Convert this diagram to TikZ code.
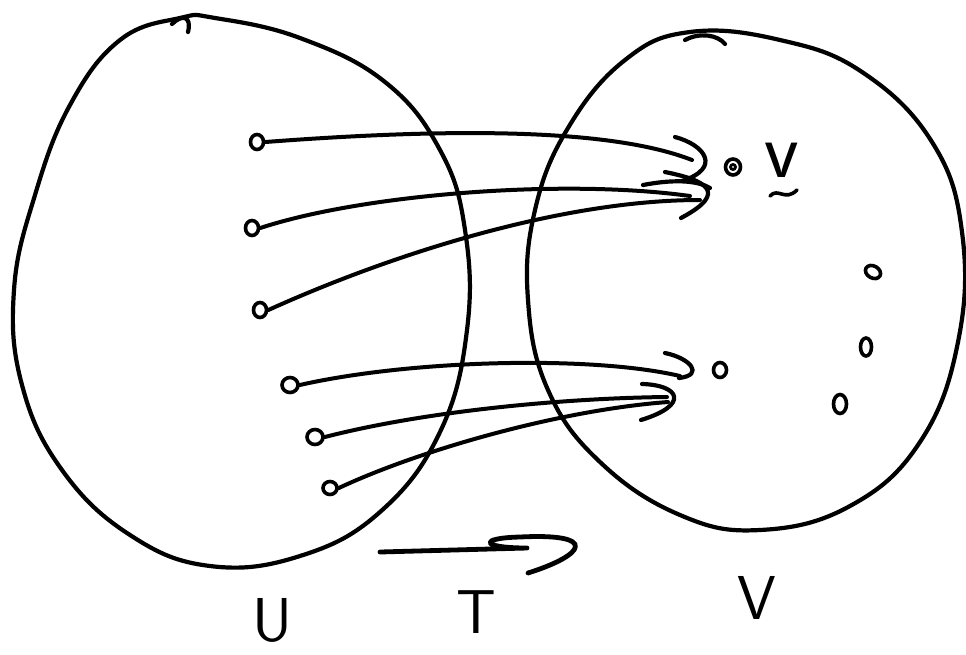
\documentclass[tikz,border=0pt]{standalone}
\usepackage{fontspec}
\usetikzlibrary{shapes.geometric}
\begin{document}
\begin{tikzpicture}[x=1pt,y=-1pt,
  ink/.style={line width=4.2pt,line cap=round,line join=round},
  pt/.style={draw,ellipse,line width=3.6pt,minimum width=13pt,minimum height=15pt,inner sep=0pt},
  conn/.style={ink,line width=4pt},
  head/.style={ink,line width=4.2pt},
  lbl/.style={font=\sffamily\fontsize{62}{62}\selectfont,inner sep=0pt}]
\useasboundingbox (0,0) rectangle (966,654);
% sets
\draw[ink] plot[smooth cycle,tension=0.7] coordinates {
  (180,18) (120,40) (70,105) (35,195) (14,290) (22,385) (62,470) (130,535) (210,566)
  (300,556) (380,512) (440,432) (467,330) (465,230) (440,150) (385,82) (300,38) (215,18)};
\draw[ink] (172,24) .. controls (182,14) and (192,16) .. (188,32);
\draw[ink] plot[smooth cycle,tension=0.7] coordinates {
  (690,32) (625,60) (568,128) (535,210) (528,300) (548,390) (600,462) (680,515)
  (760,530) (850,506) (920,442) (958,342) (962,232) (932,142) (862,72) (780,40)};
\draw[ink] (685,40) .. controls (700,32) and (718,35) .. (725,44);
% points in U
\node[pt] (u1) at (257,142) {};
\node[pt] (u2) at (252,228) {};
\node[pt] (u3) at (260,310) {};
\node[pt,minimum width=16pt] (u4) at (290,385) {};
\node[pt,minimum width=16pt] (u5) at (315,437) {};
\node[pt,minimum width=14pt,minimum height=13pt] (u6) at (330,488) {};
% points in V
\node[pt,minimum width=15pt,minimum height=16pt] (pv) at (733,167) {};
\node[pt,minimum width=5pt,minimum height=5pt,line width=2.8pt] (pvi) at (733,167) {};
\node[pt] (pw) at (720,370) {};
\node[pt,rotate=-30,minimum width=16pt,minimum height=12pt] (p1) at (873,272) {};
\node[pt,minimum height=18pt,minimum width=11pt] (p2) at (866,347) {};
\node[pt,minimum height=19pt,minimum width=13pt] (p3) at (840,404) {};
% arrow ends
\coordinate (e1) at (692,160);
\coordinate (e2) at (690,196);
\coordinate (e3) at (700,200);
\coordinate (e4) at (680,376);
\coordinate (e5) at (667,397);
\coordinate (e6) at (668,402);
% connectors
\draw[conn] (u1.east) .. controls (450,128) and (610,128) .. (e1);
\draw[conn] (u2.east) .. controls (360,195) and (560,178) .. (e2);
\draw[conn] (u3.east) .. controls (390,255) and (560,200) .. (e3);
\draw[conn] (u4.east) .. controls (410,360) and (590,355) .. (e4);
\draw[conn] (u5.east) .. controls (430,410) and (570,398) .. (e5);
\draw[conn] (u6.east) .. controls (420,450) and (560,410) .. (e6);
% arrowheads
\draw[head] (675,137) .. controls (705,145) and (722,168) .. (682,181);
\draw[head] (643,185) .. controls (680,178) and (700,182) .. (710,188);
\draw[head] (665,172) .. controls (705,180) and (730,192) .. (681,218);
\draw[head] (665,353) .. controls (690,358) and (705,375) .. (679,378);
\draw[head] (642,384) .. controls (680,385) and (690,405) .. (641,420);
% T arrow
\coordinate (ta) at (380,552);
\coordinate (tb) at (527,548);
\draw[ink,line width=4.8pt] (ta) -- (tb) .. controls (480,548) and (478,538) .. (520,537)
  .. controls (600,533) and (585,555) .. (528,573);
% labels
\node[lbl] (lU) at (272,620) {U};
\node[lbl] (lT) at (476,612) {T};
\node[lbl] (lV) at (757,598) {V};
\node[lbl,font=\sffamily\fontsize{80}{80}\selectfont,anchor=base] (lv) at (782,177) {v};
% tilde under v
\coordinate (t1) at (770,196);
\coordinate (t2) at (797,190);
\draw[ink,line width=3.6pt] (t1) .. controls (778,187) and (785,202) .. (t2);
\end{tikzpicture}
\end{document}
